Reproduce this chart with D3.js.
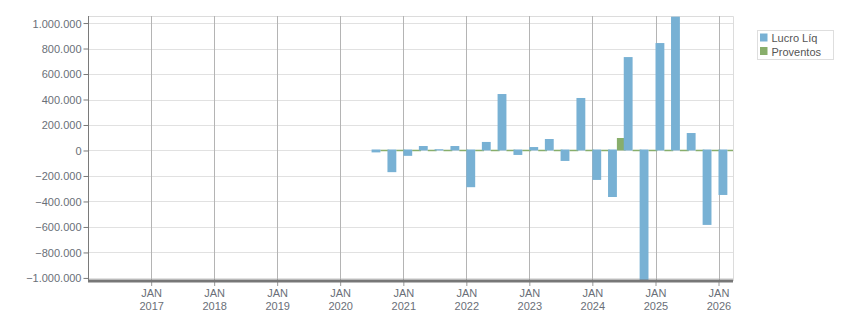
<!DOCTYPE html>
<html>
<head>
<meta charset="utf-8">
<script src="https://cdn.jsdelivr.net/npm/d3@7"></script>
<style>
  html, body { margin: 0; padding: 0; background: #fff; }
  svg { display: block; font-family: "Liberation Sans", Arial, sans-serif; }
</style>
</head>
<body>
<svg width="851" height="313"></svg>
<script>
// quarters (start month) and values
var quarters = ['2020-07', '2020-10', '2021-01', '2021-04', '2021-07', '2021-10',
  '2022-01', '2022-04', '2022-07', '2022-10', '2023-01', '2023-04', '2023-07',
  '2023-10', '2024-01', '2024-04', '2024-07', '2024-10', '2025-01', '2025-04',
  '2025-07', '2025-10', '2026-01']
var lucroLiq = [-15000, -170000, -42000, 35000, 10000, 35000,
  -288000, 67000, 443000, -35000, 27000, 90000, -82000,
  412000, -231000, -365000, 733000, -1020000, 843000, 1050000,
  137000, -584000, -349000]
var proventos = [0, 0, 0, 0, 0, 0,
  0, 0, 0, 0, 0, 0, 0,
  0, 0, 98000, 0, 0, 0, 0,
  0, 0, 0]
var seriesNames = ['Lucro Líq', 'Proventos']
var seriesColors = ['#78b1d4', '#88ae6b']
var yTicks = [-1000000, -800000, -600000, -400000, -200000, 0, 200000, 400000, 600000, 800000, 1000000]
var xTickYears = [2017, 2018, 2019, 2020, 2021, 2022, 2023, 2024, 2025, 2026]

;(function (d3) {
  var svg = d3.select('svg')
  var left = 88, right = 733, top = 16, bottom = 281

  var parse = d3.timeParse('%Y-%m')
  var dates = quarters.map(parse)

  var x = d3.scaleTime()
    .domain([new Date(2016, 0, 1), new Date(2026, 2, 26)])
    .range([left, right])

  var y = d3.scaleLinear()
    .domain([d3.min(lucroLiq) * 1.004, d3.max(lucroLiq) * 1.005])
    .range([bottom, top])

  var fmt = function (v) {
    return d3.format(',')(v).replace(/,/g, '.')
  }

  var clip = svg.append('clipPath').attr('id', 'plot')
    .append('rect')
    .attr('x', left).attr('y', top)
    .attr('width', right - left).attr('height', bottom - top)

  // horizontal grid
  svg.append('g')
    .selectAll('line')
    .data(yTicks)
    .join('line')
    .attr('x1', left).attr('x2', right)
    .attr('y1', d => Math.round(y(d)) + 0.5)
    .attr('y2', d => Math.round(y(d)) + 0.5)
    .style('stroke', '#e1e1e1')

  // plot frame (top/right)
  svg.append('path')
    .attr('d', `M${left},${top + 0.5}H${right + 0.5}V${bottom}`)
    .style('fill', 'none')
    .style('stroke', '#dcdcdc')

  // vertical grid at JAN
  var xTicks = xTickYears.map(yr => new Date(yr, 0, 1))
  svg.append('g')
    .selectAll('line')
    .data(xTicks)
    .join('line')
    .attr('x1', d => Math.round(x(d)) + 0.5)
    .attr('x2', d => Math.round(x(d)) + 0.5)
    .attr('y1', top).attr('y2', bottom)
    .style('stroke', '#b4b4b4')

  // bars
  var q = x(new Date(2021, 3, 1)) - x(new Date(2021, 0, 1))
  var bw = q * 0.57

  var bars = svg.append('g').attr('clip-path', 'url(#plot)')

  bars.selectAll('rect.prov')
    .data(proventos)
    .join('rect')
    .attr('class', 'prov')
    .attr('x', (d, i) => x(dates[i]) + bw)
    .attr('width', bw)
    .attr('y', d => d > 0 ? y(d) : y(0) - 0.75)
    .attr('height', d => Math.max(1.5, Math.abs(y(d) - y(0))))
    .style('fill', seriesColors[1])

  bars.selectAll('rect.lucro')
    .data(lucroLiq)
    .join('rect')
    .attr('class', 'lucro')
    .attr('x', (d, i) => x(dates[i]))
    .attr('width', bw)
    .attr('y', d => d > 0 ? y(d) : y(0) - 1)
    .attr('height', d => Math.abs(y(d) - y(0)) + (d > 0 ? 0 : 1))
    .style('fill', seriesColors[0])

  // y axis
  var yAxis = svg.append('g')
    .attr('transform', `translate(${left + 0.5},0)`)
    .call(d3.axisLeft(y).tickValues(yTicks).tickFormat(fmt).tickSize(5).tickPadding(2))
  yAxis.select('.domain').attr('d', `M0,${top}V${bottom}`).style('stroke', '#7a7a7a')
  yAxis.selectAll('.tick line').style('stroke', '#7a7a7a')
  yAxis.selectAll('.tick text')
    .style('font-size', '11px')
    .style('fill', '#6a6f78')
    .attr('dy', '0.36em')

  // x axis
  var xAxis = svg.append('g')
    .attr('transform', `translate(0,${bottom})`)
    .call(d3.axisBottom(x).tickValues(xTicks).tickSize(5).tickFormat(''))
  xAxis.select('.domain').remove()
  xAxis.selectAll('.tick line').style('stroke', '#9a9a9a')
  xAxis.append('line')
    .attr('x1', left).attr('x2', right)
    .style('stroke', '#777')
    .style('stroke-width', 3)

  var lbl = svg.append('g')
    .style('font-size', '11px')
    .style('fill', '#6a6f78')
    .style('text-anchor', 'middle')
  lbl.selectAll('text.m')
    .data(xTicks)
    .join('text')
    .attr('x', d => x(d) + 0.5)
    .attr('y', 297)
    .text('JAN')
  lbl.selectAll('text.y')
    .data(xTicks)
    .join('text')
    .attr('x', d => x(d) + 0.5)
    .attr('y', 310)
    .text(d => d.getFullYear())

  // legend
  var lg = svg.append('g').attr('transform', 'translate(757,30)')
  lg.append('rect')
    .attr('x', 0.5).attr('y', 0.5)
    .attr('width', 76).attr('height', 29)
    .style('fill', '#fff')
    .style('stroke', '#dedede')
  seriesNames.forEach(function (name, i) {
    lg.append('rect')
      .attr('x', 3).attr('y', 3.5 + i * 13.5)
      .attr('width', 7.5).attr('height', 8)
      .style('fill', seriesColors[i])
    lg.append('text')
      .attr('x', 14.5).attr('y', 12 + i * 13.5)
      .style('font-size', '11px')
      .style('fill', '#555')
      .text(name)
  })
})(window.d3)
</script>
</body>
</html>
